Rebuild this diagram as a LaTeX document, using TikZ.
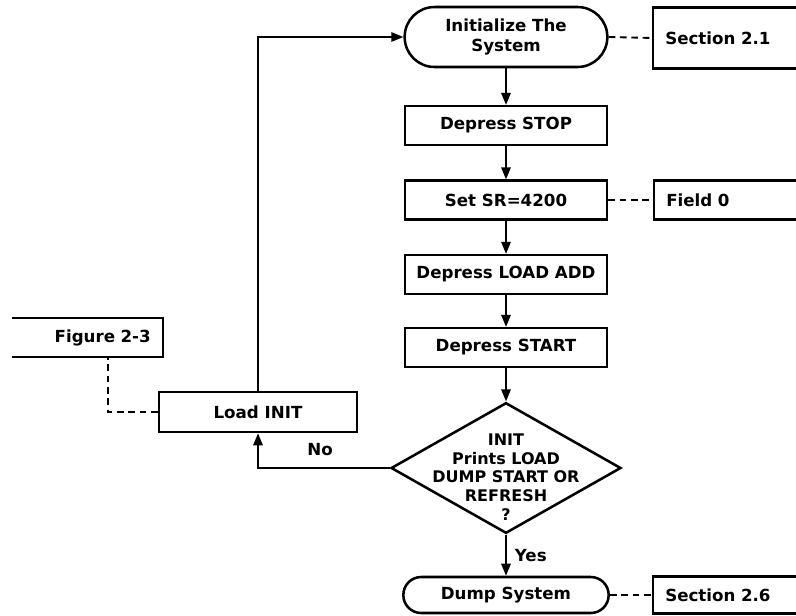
\documentclass[tikz,border=0pt]{standalone}
\usepackage{fontspec}
\setmainfont{DejaVu Sans}
\usetikzlibrary{shapes.geometric,arrows.meta}
\begin{document}
\begin{tikzpicture}[x=0.75pt,y=-0.75pt,
  every node/.style={font=\bfseries\fontsize{12.5}{14.5}\selectfont, inner sep=0pt},
  proc/.style={draw, line width=1.9pt, minimum width=151.5pt, minimum height=29pt, align=center},
  term/.style={draw, line width=1.9pt, minimum width=152pt, align=center},
  annbox/.style={minimum height=29pt, inner xsep=9pt, text width=89pt, align=left},
  brk/.style={line width=1.9pt},
  conn/.style={line width=1.4pt, -{Triangle[length=9pt,width=7pt]}},
  dsh/.style={line width=1.4pt, dash pattern=on 5pt off 3.5pt},
  lbl/.style={font=\bfseries\fontsize{12.5}{14.5}\selectfont}
]
\useasboundingbox (0,0) rectangle (796,615);

% main column
\node[term, minimum height=45pt, rounded corners=22.4pt] (init) at (506,37) {Initialize The\\System};
\node[proc] (stop) at (506,125.5) {Depress STOP};
\node[proc] (setsr) at (506,200) {Set SR=4200};
\node[proc] (ladd) at (506,274.5) {Depress LOAD ADD};
\node[proc] (start) at (506,347.5) {Depress START};
\node[draw, diamond, line width=1.9pt, minimum width=172.5pt, minimum height=98pt] (dia) at (506,468) {};
\node[align=center, font=\bfseries\fontsize{12}{14}\selectfont] (diatext) at (506,477) {INIT\\Prints LOAD\\DUMP START OR\\REFRESH\\?};
\node[term, minimum height=27pt, rounded corners=13.4pt, minimum width=154pt] (dump) at (506,595) {Dump System};
\node[proc, minimum width=148.5pt, minimum height=30pt] (load) at (258,412) {Load INIT};

% annotation boxes
\node[annbox, anchor=west, minimum height=45pt] (sec1) at (653,38) {Section 2.1};
\node[annbox, anchor=west] (field) at (654,200) {Field 0};
\node[annbox, anchor=west, minimum height=27pt] (sec6) at (653,595) {Section 2.6};
\node[minimum height=29pt, inner xsep=9pt, text width=95pt, align=right, anchor=east] (fig) at (163,337.5) {Figure 2-3};

\draw[brk] (sec1.north east) -- (sec1.north west) -- (sec1.south west) -- (sec1.south east);
\draw[brk] (field.north east) -- (field.north west) -- (field.south west) -- (field.south east);
\draw[brk] (sec6.north east) -- (sec6.north west) -- (sec6.south west) -- (sec6.south east);
\draw[brk] (fig.north west) -- (fig.north east) -- (fig.south east) -- (fig.south west);

% flow connectors
\draw[conn] (init) -- (stop);
\draw[conn] (stop) -- (setsr);
\draw[conn] (setsr) -- (ladd);
\draw[conn] (ladd) -- (start);
\draw[conn] (start) -- (dia.north);
\draw[conn] (dia.south) -- node[right=6pt, lbl] {Yes} (dump);
\draw[conn] (dia.west) -- (dia.west -| load.south) -- (load.south);
\node[lbl] (nolbl) at (320,450) {No};
\draw[conn] (load.north) -- (load.north |- init.west) -- (init.west);

% dashed links
\draw[dsh] (init.east) -- (sec1.west);
\draw[dsh] (setsr.east) -- (field.west);
\draw[dsh] (dump.east) -- (sec6.west);
\coordinate (figtap) at (108,357);
\draw[dsh] (load.west) -| (figtap);
\end{tikzpicture}
\end{document}
